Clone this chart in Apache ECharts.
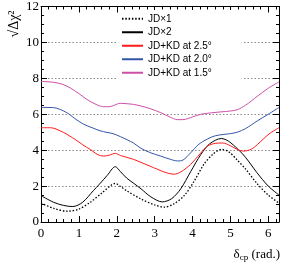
<!DOCTYPE html>
<html>
<head>
<meta charset="utf-8">
<script src="https://cdn.jsdelivr.net/npm/echarts@6/dist/echarts.min.js"></script>
<style>html,body{margin:0;padding:0;background:#fff;}#c{width:282px;height:268px;}</style>
</head>
<body>
<div id="c"></div>
<script>
var seriesNames = ['JD\u00d71', 'JD\u00d72', 'JD+KD at 2.5\u00b0', 'JD+KD at 2.0\u00b0', 'JD+KD at 1.5\u00b0'];
var xTickLabels = ['0', '1', '2', '3', '4', '5', '6'];
var yTickLabels = ['0', '2', '4', '6', '8', '10', '12'];

var jd1 = [[0,1.05],[0.35,0.75],[0.7,0.6],[1.0,0.72],[1.3,1.1],[1.6,1.6],[1.85,2.05],[1.96,2.15],[2.1,1.98],[2.26,1.74],[2.64,1.28],[3.0,0.95],[3.25,0.83],[3.5,1.0],[3.78,1.47],[4.05,2.3],[4.3,3.21],[4.55,3.8],[4.76,4.04],[4.95,3.92],[5.18,3.45],[5.4,2.95],[5.7,2.15],[6.0,1.5],[6.283,1.05]];
var jd2 = [[0,1.47],[0.33,1.10],[0.6,0.92],[0.84,0.86],[1.1,1.1],[1.38,1.74],[1.54,2.1],[1.75,2.6],[1.96,3.08],[2.1,2.8],[2.26,2.45],[2.45,2.15],[2.64,1.85],[2.9,1.4],[3.2,1.12],[3.45,1.3],[3.69,1.85],[3.95,2.8],[4.22,3.76],[4.45,4.35],[4.76,4.65],[4.95,4.5],[5.2,4.05],[5.4,3.6],[5.7,2.75],[6.0,2.0],[6.283,1.5]];
var kd25 = [[0,5.25],[0.25,5.25],[0.59,4.99],[0.9,4.6],[1.1,4.3],[1.3,4.04],[1.5,3.75],[1.65,3.67],[1.8,3.72],[1.96,3.82],[2.1,3.7],[2.44,3.49],[2.64,3.32],[3.07,2.94],[3.3,2.75],[3.51,2.66],[3.7,2.8],[3.95,3.21],[4.2,3.8],[4.39,4.22],[4.6,4.38],[4.79,4.40],[5.0,4.25],[5.18,4.04],[5.35,3.95],[5.55,4.05],[5.71,4.31],[6.02,4.9],[6.283,5.25]];
var kd20 = [[0,6.38],[0.33,6.37],[0.68,6.09],[0.9,5.75],[1.12,5.45],[1.35,5.25],[1.56,5.08],[1.74,4.99],[1.9,4.92],[2.1,4.75],[2.44,4.40],[2.64,4.1],[2.9,3.85],[3.16,3.67],[3.4,3.5],[3.6,3.4],[3.75,3.45],[3.95,3.85],[4.15,4.3],[4.39,4.62],[4.6,4.8],[4.83,4.88],[5.0,4.92],[5.18,5.0],[5.4,5.2],[5.71,5.63],[6.0,6.0],[6.283,6.38]];
var kd15 = [[0,7.83],[0.33,7.78],[0.55,7.68],[0.77,7.47],[1.0,7.15],[1.21,6.83],[1.45,6.55],[1.65,6.42],[1.8,6.42],[1.91,6.48],[2.09,6.61],[2.3,6.58],[2.44,6.55],[2.64,6.46],[2.9,6.3],[3.16,6.09],[3.4,5.85],[3.6,5.7],[3.75,5.7],[4.0,5.85],[4.22,6.0],[4.5,6.08],[4.74,6.13],[5.0,6.18],[5.18,6.25],[5.4,6.5],[5.71,7.0],[6.0,7.45],[6.283,7.8]];

var dataSets = [jd1, jd2, kd25, kd20, kd15];
var colors = ['#000000', '#000000', '#ff1a1a', '#3355aa', '#cc4fa8'];
var types = [[1.5, 1.8], 'solid', 'solid', 'solid', 'solid'];

var serif = 'Liberation Serif, Times New Roman, serif';
var chart = echarts.init(document.getElementById('c'), null, {renderer: 'canvas'});

function axisCommon() {
  return {
    axisLine: {show: true, onZero: false, lineStyle: {color: '#000', width: 1}},
    axisTick: {show: true, inside: true, length: 6, lineStyle: {color: '#000', width: 1}},
    axisLabel: {show: false}
  };
}

var option = {
  animation: false,
  backgroundColor: '#fff',
  grid: {left: 41, right: 3, top: 6, bottom: 46, containLabel: false},
  legend: {
    orient: 'vertical', left: 118, top: 10,
    backgroundColor: '#fff',
    padding: [2, 30, 2, 3],
    itemWidth: 21, itemHeight: 8, itemGap: 0,
    itemStyle: {opacity: 0, borderWidth: 0},
    textStyle: {fontFamily: 'Liberation Sans, Arial, sans-serif', fontSize: 10, color: '#000', lineHeight: 13.5},
    data: seriesNames
  },
  xAxis: [
    Object.assign(axisCommon(), {
      type: 'value', position: 'bottom', min: 0, max: 2 * Math.PI, interval: 1,
      minorTick: {show: true, splitNumber: 5, length: 3, lineStyle: {color: '#000'}},
      axisLabel: {show: true, margin: 5, color: '#000', fontFamily: serif, fontSize: 13,
        formatter: function (v) { var i = Math.round(v); return Math.abs(v - i) < 1e-6 ? (xTickLabels[i] || '') : ''; }},
      splitLine: {show: false}
    }),
    Object.assign(axisCommon(), {
      type: 'value', position: 'top', min: 0, max: 2 * Math.PI, interval: 1,
      minorTick: {show: true, splitNumber: 5, length: 3, lineStyle: {color: '#000'}},
      axisLabel: {show: false}, splitLine: {show: false}
    })
  ],
  yAxis: [
    Object.assign(axisCommon(), {
      type: 'value', position: 'left', min: 0, max: 12, interval: 2,
      minorTick: {show: true, splitNumber: 4, length: 3, lineStyle: {color: '#000'}},
      axisLabel: {show: true, margin: 2, color: '#000', fontFamily: serif, fontSize: 13,
        formatter: function (v) { return yTickLabels[Math.round(v / 2)] || ''; }},
      splitLine: {show: true, lineStyle: {color: '#888', type: [1.5, 2], width: 1}}
    }),
    Object.assign(axisCommon(), {
      type: 'value', position: 'right', min: 0, max: 12, interval: 2,
      minorTick: {show: true, splitNumber: 4, length: 3, lineStyle: {color: '#000'}},
      axisLabel: {show: false}, splitLine: {show: false}
    })
  ],
  series: dataSets.map(function (d, i) {
    return {
      name: seriesNames[i], type: 'line', data: d, xAxisIndex: 0, yAxisIndex: 0,
      smooth: 0.3, showSymbol: false, symbol: 'none',
      lineStyle: {color: colors[i], width: i === 0 ? 1.3 : 1, type: types[i]},
      itemStyle: {color: colors[i]}
    };
  }),
  graphic: [
    {type: 'text', x: 14, y: 24, rotation: Math.PI / 2,
      style: {text: '\u221a\u0394\u03c7\u00b2', font: '14px ' + serif, fill: '#000', textAlign: 'center', textVerticalAlign: 'middle'}},
    {type: 'text', right: 2, top: 248,
      style: {text: '{d|\u03b4}{s|cp}{d| (rad.)}', fill: '#000',
        rich: {d: {fontFamily: serif, fontSize: 13, fill: '#000'}, s: {fontFamily: serif, fontSize: 9, fill: '#000', padding: [6, 0, 0, 0]}}}}
  ]
};
chart.setOption(option);
</script>
</body>
</html>
